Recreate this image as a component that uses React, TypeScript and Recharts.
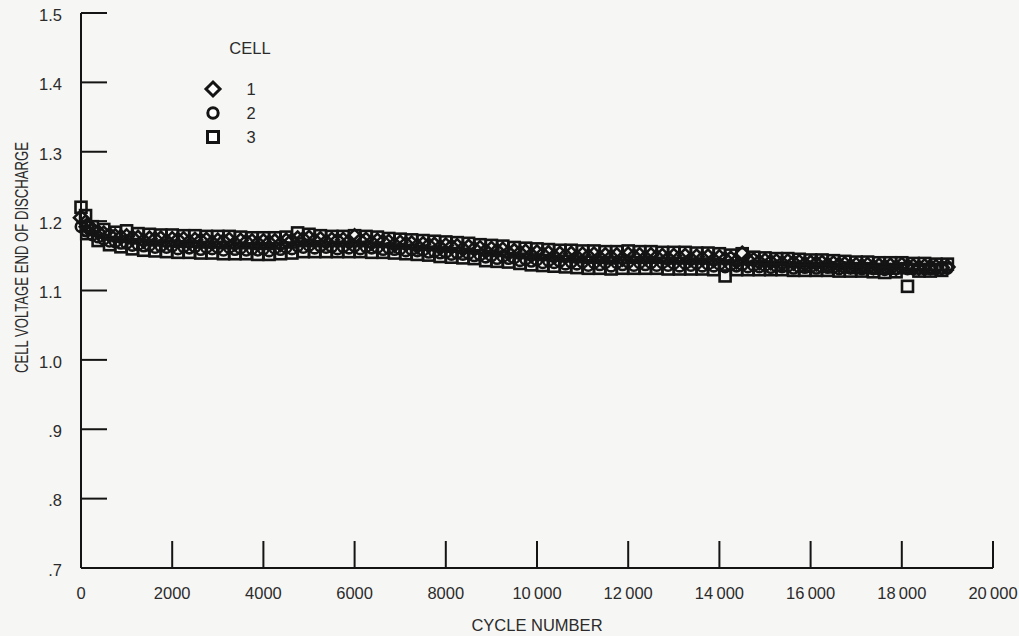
import { ScatterChart, Scatter, XAxis, YAxis, Legend } from 'recharts';

// logged cycles (every 250) and the readings taken in between
const cycles = [
  0, 100, 250, 500, 750, 1000, 1250, 1500, 1750, 2000, 2250, 2500, 2750, 3000, 3250, 3500, 3750, 4000,
  4250, 4500, 4750, 5000, 5250, 5500, 5750, 6000, 6250, 6500, 6750, 7000, 7250, 7500, 7750, 8000,
  8250, 8500, 8750, 9000, 9250, 9500, 9750, 10000, 10250, 10500, 10750, 11000, 11250, 11500, 11750,
  12000, 12250, 12500, 12750, 13000, 13250, 13500, 13750, 14000, 14250, 14500, 14750, 15000, 15250,
  15500, 15750, 16000, 16250, 16500, 16750, 17000, 17250, 17500, 17750, 18000, 18250, 18500, 18750, 19000,
];

const cyclesMid = [
  125, 375, 625, 875, 1125, 1375, 1625, 1875, 2125, 2375, 2625, 2875, 3125, 3375, 3625, 3875, 4125,
  4375, 4625, 4875, 5125, 5375, 5625, 5875, 6125, 6375, 6625, 6875, 7125, 7375, 7625, 7875, 8125,
  8375, 8625, 8875, 9125, 9375, 9625, 9875, 10125, 10375, 10625, 10875, 11125, 11375, 11625, 11875,
  12125, 12375, 12625, 12875, 13125, 13375, 13625, 13875, 14125, 14375, 14625, 14875, 15125, 15375,
  15625, 15875, 16125, 16375, 16625, 16875, 17125, 17375, 17625, 17875, 18125, 18375, 18625, 18875,
];

const cell1 = [
  1.205, 1.198, 1.188, 1.182, 1.178, 1.178, 1.176, 1.175, 1.175, 1.174, 1.174, 1.173, 1.173, 1.172, 1.173, 1.172, 1.171, 1.171,
  1.171, 1.172, 1.175, 1.176, 1.174, 1.173, 1.173, 1.178, 1.173, 1.172, 1.17, 1.169, 1.168, 1.167, 1.166, 1.165,
  1.164, 1.163, 1.161, 1.16, 1.159, 1.157, 1.156, 1.155, 1.154, 1.153, 1.153, 1.152, 1.152, 1.151, 1.151,
  1.152, 1.151, 1.151, 1.15, 1.15, 1.15, 1.149, 1.149, 1.148, 1.146, 1.153, 1.144, 1.143, 1.142,
  1.142, 1.141, 1.14, 1.14, 1.139, 1.138, 1.137, 1.137, 1.136, 1.136, 1.137, 1.135, 1.135, 1.134, 1.134,
];

const cell1Mid = [
  1.192, 1.184, 1.18, 1.177, 1.176, 1.172, 1.174, 1.171, 1.173, 1.17, 1.172, 1.169, 1.171, 1.168, 1.17, 1.168, 1.169,
  1.167, 1.172, 1.174, 1.172, 1.17, 1.172, 1.17, 1.172, 1.169, 1.17, 1.166, 1.167, 1.164, 1.165, 1.162, 1.163,
  1.16, 1.16, 1.157, 1.157, 1.154, 1.154, 1.151, 1.152, 1.149, 1.15, 1.148, 1.149, 1.147, 1.148, 1.146,
  1.149, 1.147, 1.148, 1.146, 1.147, 1.145, 1.146, 1.144, 1.145, 1.142, 1.144, 1.141, 1.141, 1.139,
  1.14, 1.138, 1.139, 1.137, 1.137, 1.135, 1.135, 1.134, 1.134, 1.133, 1.135, 1.133, 1.134, 1.133,
];

const cell2 = [
  1.192, 1.186, 1.18, 1.174, 1.17, 1.168, 1.166, 1.165, 1.164, 1.164, 1.163, 1.163, 1.162, 1.162, 1.162, 1.161, 1.16, 1.16,
  1.161, 1.162, 1.164, 1.165, 1.164, 1.163, 1.163, 1.164, 1.163, 1.162, 1.161, 1.16, 1.159, 1.158, 1.156, 1.155,
  1.154, 1.153, 1.151, 1.15, 1.149, 1.147, 1.145, 1.144, 1.143, 1.142, 1.141, 1.141, 1.14, 1.14, 1.14,
  1.141, 1.14, 1.14, 1.14, 1.139, 1.139, 1.139, 1.138, 1.138, 1.137, 1.137, 1.136, 1.136, 1.135,
  1.135, 1.134, 1.134, 1.134, 1.133, 1.133, 1.132, 1.132, 1.131, 1.131, 1.132, 1.131, 1.131, 1.131, 1.132,
];

const cell2Mid = [
  1.186, 1.177, 1.171, 1.168, 1.165, 1.164, 1.162, 1.162, 1.16, 1.161, 1.159, 1.16, 1.158, 1.159, 1.158, 1.158, 1.157,
  1.159, 1.16, 1.162, 1.161, 1.162, 1.16, 1.161, 1.16, 1.161, 1.159, 1.159, 1.157, 1.157, 1.155, 1.154, 1.152,
  1.152, 1.15, 1.148, 1.146, 1.146, 1.143, 1.142, 1.14, 1.14, 1.138, 1.138, 1.136, 1.137, 1.135, 1.137,
  1.136, 1.137, 1.136, 1.136, 1.135, 1.136, 1.135, 1.135, 1.134, 1.135, 1.134, 1.134, 1.133, 1.134,
  1.132, 1.133, 1.132, 1.133, 1.131, 1.132, 1.131, 1.131, 1.13, 1.131, 1.131, 1.132, 1.131, 1.132,
];

// cell 3: upper row of squares at the logged cycles, lower row in between
const cell3 = [
  1.22, 1.208, 1.192, 1.188, 1.184, 1.186, 1.182, 1.181, 1.18, 1.18, 1.179, 1.179, 1.178, 1.178, 1.178, 1.177, 1.176, 1.176,
  1.176, 1.177, 1.183, 1.181, 1.179, 1.178, 1.178, 1.179, 1.178, 1.177, 1.175, 1.174, 1.173, 1.172, 1.171, 1.17,
  1.169, 1.168, 1.166, 1.165, 1.164, 1.162, 1.161, 1.16, 1.159, 1.158, 1.158, 1.157, 1.157, 1.156, 1.156,
  1.157, 1.156, 1.156, 1.155, 1.155, 1.155, 1.154, 1.154, 1.153, 1.151, 1.153, 1.148, 1.147, 1.146,
  1.146, 1.145, 1.144, 1.144, 1.143, 1.142, 1.141, 1.141, 1.14, 1.14, 1.14, 1.139, 1.139, 1.138, 1.138,
];

const cell3Mid = [
  1.182, 1.172, 1.166, 1.163, 1.16, 1.158, 1.157, 1.156, 1.155, 1.155, 1.154, 1.154, 1.153, 1.153, 1.153, 1.152, 1.152,
  1.153, 1.154, 1.156, 1.156, 1.156, 1.156, 1.156, 1.156, 1.155, 1.155, 1.154, 1.153, 1.152, 1.151, 1.149, 1.148,
  1.147, 1.146, 1.143, 1.142, 1.141, 1.139, 1.137, 1.136, 1.135, 1.134, 1.133, 1.132, 1.132, 1.131, 1.132,
  1.132, 1.132, 1.132, 1.131, 1.131, 1.131, 1.131, 1.13, 1.121, 1.13, 1.13, 1.13, 1.13, 1.13,
  1.129, 1.129, 1.129, 1.129, 1.128, 1.128, 1.128, 1.127, 1.126, 1.127, 1.106, 1.128, 1.128, 1.129,
];

const xTicks = [0, 2000, 4000, 6000, 8000, 10000, 12000, 14000, 16000, 18000, 20000];
const yTicks = [0.7, 0.8, 0.9, 1.0, 1.1, 1.2, 1.3, 1.4, 1.5];
const cellNames = ['1', '2', '3'];

const ink = '#141414';
const textInk = '#2b2b2b';
const font = '"Liberation Sans", Arial, sans-serif';
const fontSize = 16.5;

const toPoints = (xs: number[], vals: number[]) => xs.map((c, i) => ({ x: c, y: vals[i] }));
const cell1Points = [...toPoints(cycles, cell1), ...toPoints(cyclesMid, cell1Mid)];
const cell2Points = [...toPoints(cycles, cell2), ...toPoints(cyclesMid, cell2Mid)];
const cell3Points = [...toPoints(cycles, cell3), ...toPoints(cyclesMid, cell3Mid)];

const fmtX = (v: number) => (v >= 10000 ? String(v).replace(/(\d+)(\d{3})$/, '$1\u2009$2') : String(v));
const fmtY = (v: number) => (v >= 1 ? v.toFixed(1) : v.toFixed(1).slice(1));

const Diamond = ({ cx, cy, sw = 2.6, fill = 'none' }: any) => (
  <polygon points={`${cx},${cy - 7} ${cx + 7},${cy} ${cx},${cy + 7} ${cx - 7},${cy}`} fill={fill} stroke={ink} strokeWidth={sw} />
);
const Circle = ({ cx, cy, sw = 2.6, fill = 'none' }: any) => (
  <circle cx={cx} cy={cy} r={5.2} fill={fill} stroke={ink} strokeWidth={sw} />
);
const Square = ({ cx, cy, sw = 2.6, fill = 'none' }: any) => (
  <rect x={cx - 5.5} y={cy - 5.5} width={11} height={11} fill={fill} stroke={ink} strokeWidth={sw} />
);
const markers = [Diamond, Circle, Square];

const YLabel = ({ viewBox }: any) => {
  const cx = viewBox.x + 22;
  const cy = viewBox.y + viewBox.height / 2 - 33;
  return (
    <text
      x={cx}
      y={cy}
      transform={`rotate(-90, ${cx}, ${cy})`}
      textAnchor="middle"
      dominantBaseline="central"
      textLength={231}
      lengthAdjust="spacingAndGlyphs"
      fontFamily={font}
      fontSize={18}
      fill={textInk}
    >
      CELL VOLTAGE END OF DISCHARGE
    </text>
  );
};

const CellLegend = () => (
  <svg width={100} height={120}>
    <text x={55} y={21} textAnchor="middle" fontFamily={font} fontSize={fontSize} fill={textInk}>
      CELL
    </text>
    {cellNames.map((name, i) => {
      const Marker = markers[i];
      return (
        <g key={name}>
          <Marker cx={18} cy={56 + i * 24} sw={3} fill="#fff" />
          <text x={56} y={62 + i * 24} textAnchor="middle" fontFamily={font} fontSize={fontSize} fill={textInk}>
            {name}
          </text>
        </g>
      );
    })}
  </svg>
);

export default function App() {
  return (
    <div style={{ position: 'absolute', left: 0, top: 0, width: 1019, height: 636, background: '#f6f6f4' }}>
      <ScatterChart width={1019} height={636} margin={{ top: 13, right: 26, left: 0, bottom: 0 }}>
        <XAxis
          type="number"
          dataKey="x"
          domain={[0, 20000]}
          ticks={xTicks}
          interval={0}
          tickFormatter={fmtX}
          height={68}
          tickSize={-27}
          tickMargin={46}
          axisLine={{ stroke: ink, strokeWidth: 2 }}
          tickLine={{ stroke: ink, strokeWidth: 2 }}
          tick={{ fontFamily: font, fontSize, fill: textInk }}
          label={{ value: 'CYCLE NUMBER', position: 'insideBottom', offset: 5, fontFamily: font, fontSize, fill: textInk }}
        />
        <YAxis
          type="number"
          dataKey="y"
          domain={[0.7, 1.5]}
          ticks={yTicks}
          interval={0}
          tickFormatter={fmtY}
          width={81}
          tickSize={-26}
          tickMargin={45}
          axisLine={{ stroke: ink, strokeWidth: 2 }}
          tickLine={{ stroke: ink, strokeWidth: 2 }}
          tick={{ fontFamily: font, fontSize, fill: textInk, dy: 2 }}
          label={<YLabel />}
        />
        <Legend
          layout="vertical"
          align="center"
          verticalAlign="middle"
          content={<CellLegend />}
          wrapperStyle={{ left: 195, top: 33, width: 100, height: 120 }}
        />
        <Scatter name="1" data={cell1Points} shape={<Diamond />} isAnimationActive={false} />
        <Scatter name="2" data={cell2Points} shape={<Circle />} isAnimationActive={false} />
        <Scatter name="3" data={cell3Points} shape={<Square />} isAnimationActive={false} />
      </ScatterChart>
    </div>
  );
}
